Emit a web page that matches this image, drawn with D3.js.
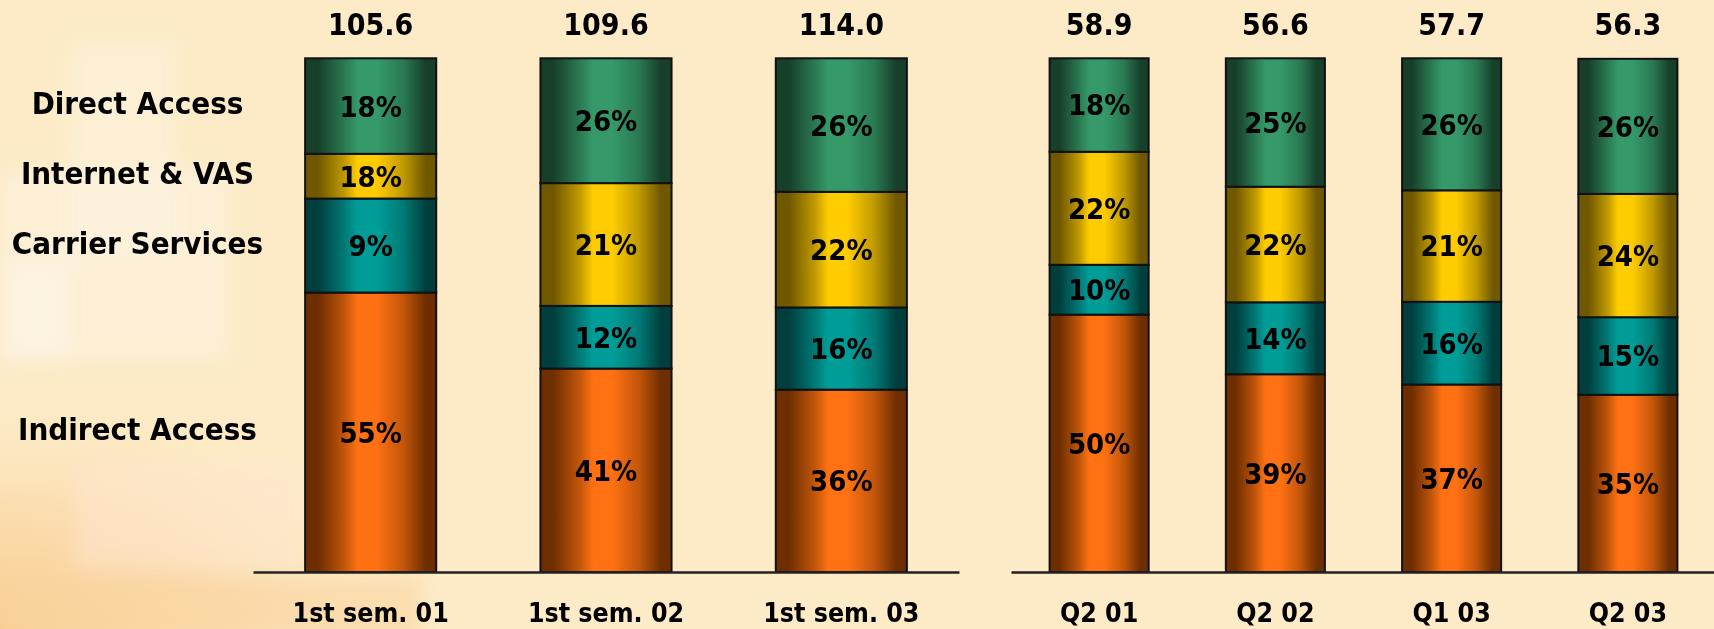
<!DOCTYPE html>
<meta charset="utf-8">
<html>
<head>
  <script src="https://d3js.org/d3.v7.min.js"></script>
  <style>
    html, body {
      margin: 0;
      padding: 0;
      background: #fcebc6;
    }

    svg text {
      font-family: "DejaVu Sans Condensed", "DejaVu Sans", sans-serif;
      font-stretch: condensed;
      font-weight: bold;
      fill: #000;
    }
  </style>
</head>

<body>
  <script>

    // categories, in the order they are drawn
    var categories = ["1st sem. 01", "1st sem. 02", "1st sem. 03", "Q2 01", "Q2 02", "Q1 03", "Q2 03"];
    var semesters = ["1st sem. 01", "1st sem. 02", "1st sem. 03"];
    var quarters = ["Q2 01", "Q2 02", "Q1 03", "Q2 03"];

    // totals printed above each bar
    var totals = [105.6, 109.6, 114.0, 58.9, 56.6, 57.7, 56.3];

    // stack order, bottom to top
    var series = ["Indirect Access", "Carrier Services", "Internet & VAS", "Direct Access"];

    // segment shares (as drawn, % of bar height)
    var indirect = [54.4, 39.6, 35.5, 50.1, 38.5, 36.5, 34.5];
    var carrier = [18.3, 12.2, 16.0, 9.7, 14.0, 16.1, 15.1];
    var internet = [8.7, 23.9, 22.5, 22.0, 22.5, 21.7, 24.0];
    var direct = [18.6, 24.3, 26.0, 18.2, 25.0, 25.7, 26.3];

    // percentages printed in the segments
    var indirectLabels = [55, 41, 36, 50, 39, 37, 35];
    var carrierLabels = [9, 12, 16, 10, 14, 16, 15];
    var internetLabels = [18, 21, 22, 22, 22, 21, 24];
    var directLabels = [18, 26, 26, 18, 25, 26, 26];

    var width = 1714, height = 629;

    var colors = {
      "Indirect Access": { dark: "#6e2e00", mid: "#c2560a", light: "#ff7112" },
      "Carrier Services": { dark: "#003f3d", mid: "#007a76", light: "#009d98" },
      "Internet & VAS": { dark: "#705800", mid: "#c09a00", light: "#ffcc00" },
      "Direct Access": { dark: "#173f2a", mid: "#2a7a52", light: "#35996a" }
    };

    var rows = categories.map(function (c, i) {
      return {
        cat: c,
        total: totals[i],
        "Indirect Access": indirect[i],
        "Carrier Services": carrier[i],
        "Internet & VAS": internet[i],
        "Direct Access": direct[i],
        labels: {
          "Indirect Access": indirectLabels[i],
          "Carrier Services": carrierLabels[i],
          "Internet & VAS": internetLabels[i],
          "Direct Access": directLabels[i]
        }
      };
    });

    var svg = d3.select("body")
      .append("svg")
      .attr("width", width)
      .attr("height", height)
      .style("display", "block");

    var defs = svg.append("defs");

    // soft background blocks
    var blur = defs.append("filter").attr("id", "soft")
      .attr("x", "-30%").attr("y", "-30%").attr("width", "160%").attr("height", "160%");
    blur.append("feGaussianBlur").attr("stdDeviation", 10);

    var bgGrad = defs.append("radialGradient").attr("id", "peach")
      .attr("cx", "0").attr("cy", "1").attr("r", "0.75");
    bgGrad.append("stop").attr("offset", "0%").attr("stop-color", "#f9cc90").attr("stop-opacity", 1);
    bgGrad.append("stop").attr("offset", "50%").attr("stop-color", "#fbd9a8").attr("stop-opacity", 0.75);
    bgGrad.append("stop").attr("offset", "100%").attr("stop-color", "#fcebc6").attr("stop-opacity", 0);

    svg.append("rect").attr("width", width).attr("height", height).attr("fill", "#fcebc6");
    svg.append("rect").attr("x", 0).attr("y", 300).attr("width", 560).attr("height", 329)
      .attr("fill", "url(#peach)");

    var bg = svg.append("g").attr("filter", "url(#soft)");
    bg.append("rect").attr("x", 0).attr("y", 170).attr("width", 230).attr("height", 190)
      .attr("fill", "#fdf3e2").attr("opacity", 0.55);
    bg.append("rect").attr("x", 68).attr("y", 40).attr("width", 110).attr("height", 220)
      .attr("fill", "#fdf3e2").attr("opacity", 0.45);
    bg.append("rect").attr("x", 0).attr("y", 260).attr("width", 72).attr("height", 100)
      .attr("fill", "#fef4e6").attr("opacity", 0.7);
    bg.append("rect").attr("x", 75).attr("y", 462).attr("width", 225).attr("height", 105)
      .attr("fill", "#fde6cf").attr("opacity", 0.55);
    bg.append("rect").attr("x", 0).attr("y", 578).attr("width", 420).attr("height", 60)
      .attr("fill", "#fad49e").attr("opacity", 0.6);

    // bar gradients, dark edges and a bright core left of centre
    series.forEach(function (s, i) {
      var g = defs.append("linearGradient").attr("id", "grad" + i)
        .attr("x1", "0%").attr("x2", "100%").attr("y1", "0%").attr("y2", "0%");
      var c = colors[s];
      [[0, c.dark], [0.1, c.dark], [0.3, c.mid], [0.4, c.light], [0.55, c.light],
      [0.75, c.mid], [0.92, c.dark], [1, c.dark]].forEach(function (st) {
        g.append("stop").attr("offset", st[0]).attr("stop-color", st[1]);
      });
    });

    var y = d3.scaleLinear().domain([0, 100]).range([572, 58.3]);

    var xLeft = d3.scaleBand().domain(semesters).range([253, 959])
      .paddingInner(0.443).paddingOuter(0.2215);
    var xRight = d3.scaleBand().domain(quarters).range([1011, 1716])
      .paddingInner(0.438).paddingOuter(0.219);

    function xOf(c) {
      return semesters.indexOf(c) >= 0 ? xLeft(c) : xRight(c);
    }
    function bwOf(c) {
      return semesters.indexOf(c) >= 0 ? xLeft.bandwidth() : xRight.bandwidth();
    }

    var stack = d3.stack().keys(series);
    var layers = stack(rows);

    var bars = svg.append("g");

    layers.forEach(function (layer, i) {
      bars.selectAll(".seg" + i)
        .data(layer)
        .enter()
        .append("rect")
        .attr("class", "seg" + i)
        .attr("x", function (d) { return xOf(d.data.cat); })
        .attr("y", function (d) { return y(d[1]); })
        .attr("width", function (d) { return bwOf(d.data.cat); })
        .attr("height", function (d) { return y(d[0]) - y(d[1]); })
        .style("fill", "url(#grad" + i + ")")
        .style("stroke", "#111")
        .style("stroke-width", 2);

      bars.selectAll(".lab" + i)
        .data(layer)
        .enter()
        .append("text")
        .attr("x", function (d) { return xOf(d.data.cat) + bwOf(d.data.cat) / 2; })
        .attr("y", function (d) { return (y(d[0]) + y(d[1])) / 2; })
        .attr("dy", "0.36em")
        .attr("text-anchor", "middle")
        .attr("font-size", 29)
        .text(function (d) { return d.data.labels[layer.key] + "%"; });
    });

    // totals above bars
    svg.selectAll(".total")
      .data(rows)
      .enter()
      .append("text")
      .attr("x", function (d) { return xOf(d.cat) + bwOf(d.cat) / 2; })
      .attr("y", y(100) - 23.5)
      .attr("text-anchor", "middle")
      .attr("font-size", 30)
      .text(function (d) { return d.total.toFixed(1); });

    // baselines
    [xLeft, xRight].forEach(function (sc) {
      var axis = d3.axisBottom(sc).tickSize(0).tickPadding(40);
      var g = svg.append("g")
        .attr("transform", "translate(0," + y(0) + ")")
        .call(axis);
      g.select(".domain").style("stroke", "#222").style("stroke-width", 2.5);
      g.selectAll("text")
        .attr("font-size", 26.5)
        .attr("dy", "0.36em")
        .style("font-family", null);
    });

    // series names on the left, level with the first bar's segments
    var first = layers.map(function (l) { return l[0]; });
    svg.selectAll(".legend")
      .data(first)
      .enter()
      .append("text")
      .attr("x", 137.5)
      .attr("y", function (d) { return (y(d[0]) + y(d[1])) / 2 - 3; })
      .attr("dy", "0.36em")
      .attr("text-anchor", "middle")
      .attr("font-size", 31)
      .text(function (d, i) { return series[i]; });

  </script>
</body>

</html>
